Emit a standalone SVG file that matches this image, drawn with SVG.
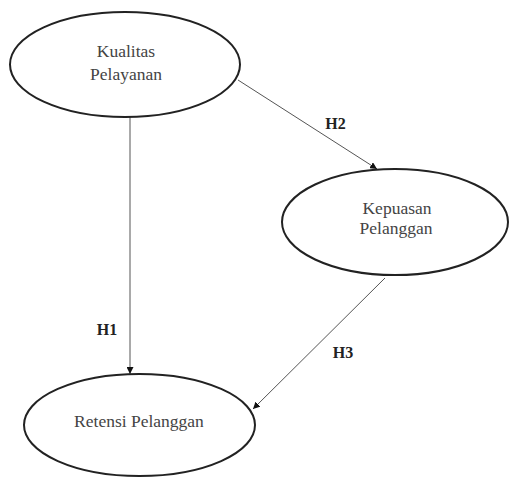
<svg xmlns="http://www.w3.org/2000/svg" width="509" height="478" viewBox="0 0 509 478">
<style>
.node ellipse{fill:#fff;stroke:#222;stroke-width:2}
.node text{font-family:'Liberation Serif','Times New Roman',serif;font-size:17.5px;fill:#444;text-anchor:middle}
.conn line{stroke:#555;stroke-width:1;fill:none}
.lbl{font-family:'Liberation Serif','Times New Roman',serif;font-size:16px;font-weight:bold;fill:#222;text-anchor:middle}
</style>
<defs>
<marker id="ah" viewBox="0 0 10 10" refX="10" refY="5" markerWidth="7" markerHeight="7" markerUnits="userSpaceOnUse" orient="auto">
<path d="M0,0 L10,5 L0,10 z" fill="#111"/>
</marker>
</defs>
<rect width="509" height="478" fill="#fff"/>
<g class="conn">
<line x1="130" y1="117" x2="130" y2="374" marker-end="url(#ah)"/>
<line x1="238" y1="80" x2="377" y2="169" marker-end="url(#ah)"/>
<line x1="385" y1="278" x2="253" y2="409" marker-end="url(#ah)"/>
</g>
<text class="lbl" x="107" y="335">H1</text>
<text class="lbl" x="335.5" y="129">H2</text>
<text class="lbl" x="343" y="358">H3</text>
<g id="kualitas" class="node">
<ellipse cx="125" cy="64.5" rx="115" ry="52.5"/>
<text x="126" y="57">Kualitas</text>
<text x="126" y="80">Pelayanan</text>
</g>
<g id="kepuasan" class="node">
<ellipse cx="395" cy="222" rx="113" ry="53"/>
<text x="397" y="214">Kepuasan</text>
<text x="396" y="234">Pelanggan</text>
</g>
<g id="retensi" class="node">
<ellipse cx="139.5" cy="425" rx="115.5" ry="51"/>
<text x="139" y="427">Retensi Pelanggan</text>
</g>
</svg>
